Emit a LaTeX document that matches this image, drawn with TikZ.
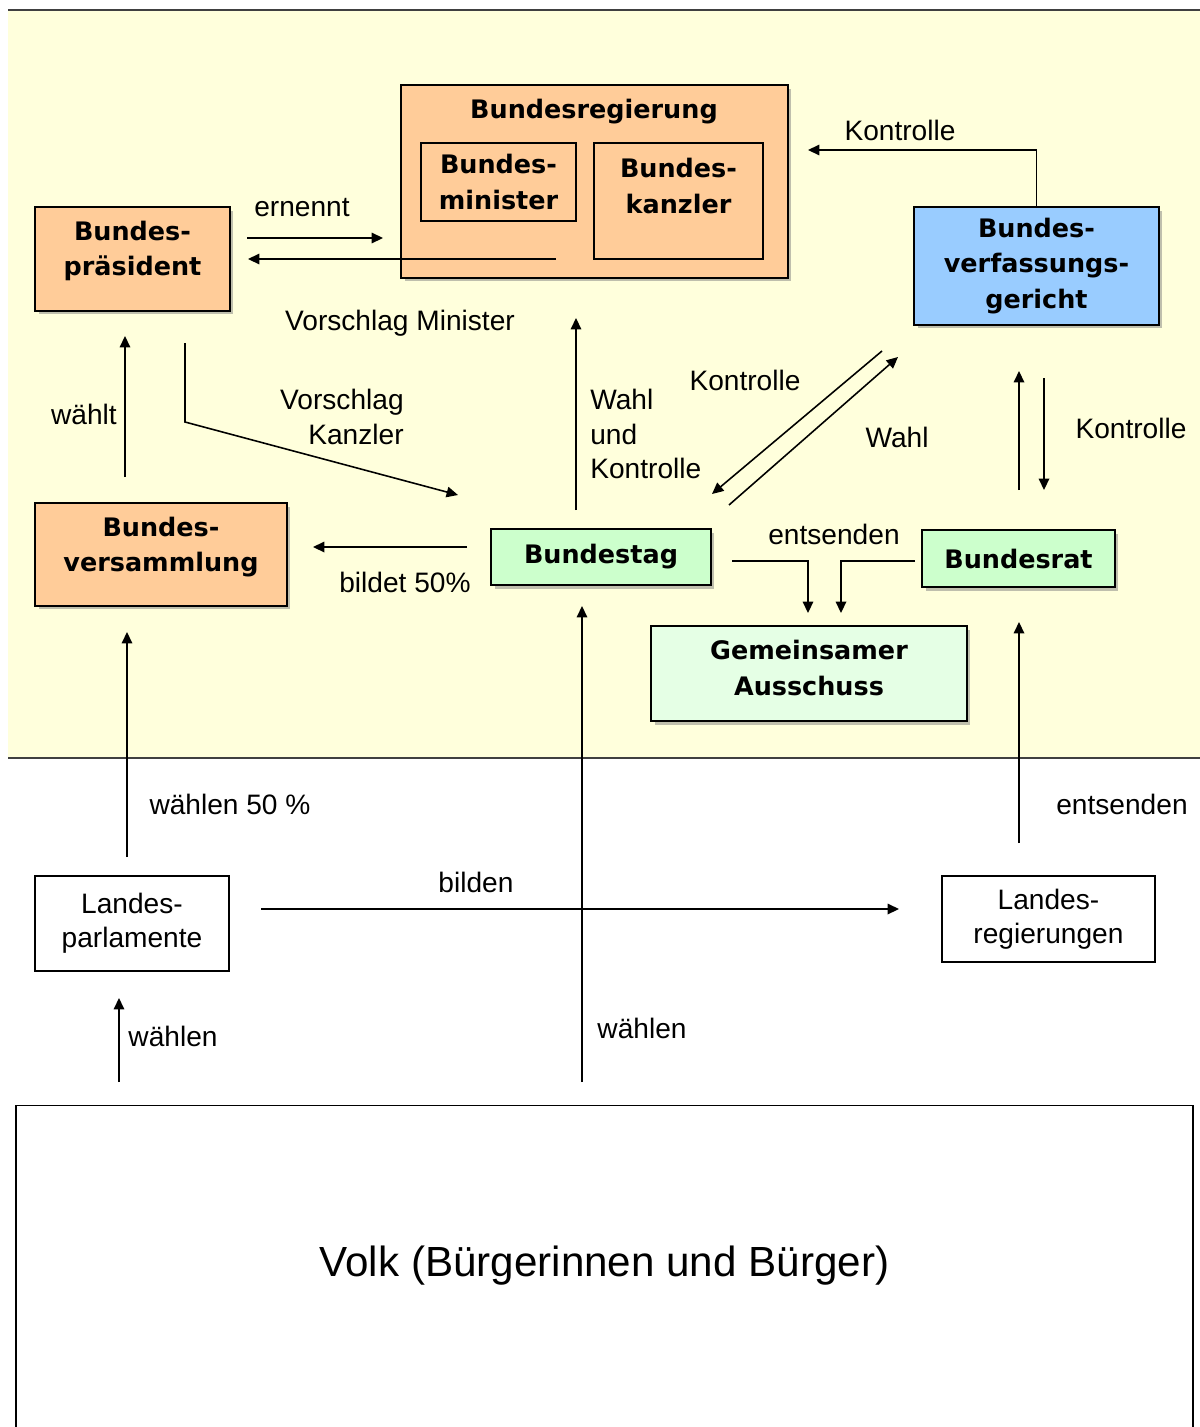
\documentclass[tikz,border=0pt]{standalone}
\usepackage{fontspec}
\setmainfont{Liberation Sans}
\newfontfamily\boxfont{DejaVu Sans}
\usetikzlibrary{arrows.meta, shadows}
\definecolor{hintergrund}{HTML}{FFFFDC}
\definecolor{pfirsich}{HTML}{FFCC99}
\definecolor{hellblau}{HTML}{99CCFF}
\definecolor{hellgruen}{HTML}{CCFFCC}
\definecolor{blassgruen}{HTML}{E5FFE5}

\begin{document}
\begin{tikzpicture}[x=0.02cm, y=-0.02cm,
    titel/.style={font=\boxfont\bfseries\fontsize{14.5}{20}\selectfont, align=center, inner sep=0pt},
    organ/.style={titel, draw=black, line width=0.9pt, drop shadow={shadow xshift=0.07cm, shadow yshift=-0.07cm, fill=black!50}},
    innen/.style={titel, draw=black, line width=0.9pt},
    land/.style={draw=black, line width=0.8pt, fill=white, font=\fontsize{16}{19.5}\selectfont, align=center, inner sep=0pt},
    txt/.style={font=\fontsize{16}{19.5}\selectfont, inner sep=0pt},
    pfeil/.style={line width=0.9pt, -{Triangle[length=6.5pt, width=6pt]}}]
        \useasboundingbox (0,0) rectangle (1200,1427);
        \clip (0,0) rectangle (1200,1427);
        \fill[white] (0,0) rectangle (1200,1427);
        \fill[hintergrund] (8,10) rectangle (1200,758);
        \draw[line width=1.2pt, black!75] (8,10) -- (1200,10);
        \draw[line width=1pt, black!75] (8,758) -- (1200,758);
        %
        \node[organ, fill=pfirsich, minimum width=3.9cm, minimum height=2.08cm] (bpraes) at (132.5,259) {};
        \node[titel] (bpraestext) at (132.5,251) {Bundes-\\präsident};
        \node[organ, fill=pfirsich, minimum width=7.74cm, minimum height=3.86cm] (breg) at (594.5,181.5) {};
        \node[titel] (bregtitel) at (594,112) {Bundesregierung};
        \node[innen, minimum width=3.1cm, minimum height=1.56cm] (bmin) at (498.5,182) {Bundes-\\minister};
        \node[innen, minimum width=3.38cm, minimum height=2.32cm] (bkanz) at (678.5,201) {};
        \node[titel] (bkanztext) at (678.5,186) {Bundes-\\kanzler};
        \node[organ, fill=hellblau, minimum width=4.9cm, minimum height=2.36cm] (bverfg) at (1036.5,266) {Bundes-\\verfassungs-\\gericht};
        \node[organ, fill=pfirsich, minimum width=5.04cm, minimum height=2.06cm] (bvers) at (161,554.5) {};
        \node[titel] (bverstext) at (161,547) {Bundes-\\versammlung};
        \node[organ, fill=hellgruen, minimum width=4.4cm, minimum height=1.12cm] (btag) at (601,557) {Bundestag};
        \node[organ, fill=hellgruen, minimum width=3.86cm, minimum height=1.14cm] (brat) at (1018.5,558.5) {Bundesrat};
        \node[organ, fill=blassgruen, minimum width=6.32cm, minimum height=1.9cm] (gemaus) at (809,673.5) {};
        \node[titel] (gemaustext) at (809,668) {Gemeinsamer\\Ausschuss};
        \node[land, minimum width=3.88cm, minimum height=1.9cm] (lparl) at (132,923.5) {Landes-\\parlamente};
        \node[land, minimum width=4.26cm, minimum height=1.72cm] (lreg) at (1048.5,919) {Landes-\\regierungen};
        \node[land, minimum width=23.54cm, minimum height=7.4cm, anchor=north] (volk) at (604.5,1105) {};
        \node[txt, font=\fontsize{24}{28}\selectfont] (volktext) at (604.5,1266) {Volk (Bürgerinnen und Bürger)};
        %
        \coordinate (ern1) at (247,238);
        \coordinate (ern2) at (383,238);
        \coordinate (vm1) at (556,259);
        \coordinate (vm2) at (248,259);
        \coordinate (kon1) at (808,150);
        \coordinate (wt1) at (125,477);
        \coordinate (wt2) at (125,336);
        \coordinate (vk1) at (185,343);
        \coordinate (vk2) at (185,422);
        \coordinate (vk3) at (458,495);
        \coordinate (wk1) at (576,510);
        \coordinate (wk2) at (576,318);
        \coordinate (kd1) at (882,351);
        \coordinate (kd2) at (712,494);
        \coordinate (wd1) at (729,505);
        \coordinate (wd2) at (898,357);
        \coordinate (br1) at (1019,490);
        \coordinate (br2) at (1019,371);
        \coordinate (br3) at (1044,378);
        \coordinate (br4) at (1044,490);
        \coordinate (bi1) at (467,547);
        \coordinate (bi2) at (313,547);
        \coordinate (ent1) at (732,561);
        \coordinate (ent2) at (808,613);
        \coordinate (ent3) at (915,561);
        \coordinate (ent4) at (841,613);
        \coordinate (wf1) at (127,857);
        \coordinate (wf2) at (127,632);
        \coordinate (wv1) at (582,1082);
        \coordinate (wv2) at (582,606);
        \coordinate (bl1) at (261,909);
        \coordinate (bl2) at (899,909);
        \coordinate (el1) at (1019,843);
        \coordinate (el2) at (1019,622);
        \coordinate (wl1) at (119,1082);
        \coordinate (wl2) at (119,998);
        %
        \draw[pfeil] (ern1) -- (ern2);
        \draw[pfeil] (vm1) -- (vm2);
        \draw[pfeil] (bverfg.north) |- (kon1);
        \draw[pfeil] (wt1) -- (wt2);
        \draw[pfeil] (vk1) -- (vk2) -- (vk3);
        \draw[pfeil] (wk1) -- (wk2);
        \draw[pfeil] (kd1) -- (kd2);
        \draw[pfeil] (wd1) -- (wd2);
        \draw[pfeil] (br1) -- (br2);
        \draw[pfeil] (br3) -- (br4);
        \draw[pfeil] (bi1) -- (bi2);
        \draw[pfeil] (ent1) -| (ent2);
        \draw[pfeil] (ent3) -| (ent4);
        \draw[pfeil] (wf1) -- (wf2);
        \draw[pfeil] (wv1) -- (wv2);
        \draw[pfeil] (bl1) -- (bl2);
        \draw[pfeil] (el1) -- (el2);
        \draw[pfeil] (wl1) -- (wl2);
        %
        \node[txt] (lernennt) at (302,208) {ernennt};
        \node[txt] (lvorminister) at (400,323) {Vorschlag Minister};
        \node[txt] (lkontrolle1) at (900,130) {Kontrolle};
        \node[txt] (lwaehlt) at (84,414) {wählt};
        \node[txt, align=right, anchor=east] (lvorkanzler) at (404,417) {Vorschlag\\Kanzler};
        \node[txt, align=left, anchor=west] (lwahlkontrolle) at (590,434) {Wahl\\und\\Kontrolle};
        \node[txt] (lkontrolle2) at (745,380) {Kontrolle};
        \node[txt] (lwahl) at (897,437) {Wahl};
        \node[txt] (lkontrolle3) at (1131,428) {Kontrolle};
        \node[txt] (lbildet) at (405,582) {bildet 50\%};
        \node[txt] (lentsenden1) at (834,534) {entsenden};
        \node[txt] (lwaehlen1) at (230,804) {wählen 50 \%};
        \node[txt] (lbilden) at (476,882) {bilden};
        \node[txt] (lentsenden2) at (1122,804) {entsenden};
        \node[txt] (lwaehlen2) at (642,1028) {wählen};
        \node[txt] (lwaehlen3) at (173,1036) {wählen};
\end{tikzpicture}
\end{document}
